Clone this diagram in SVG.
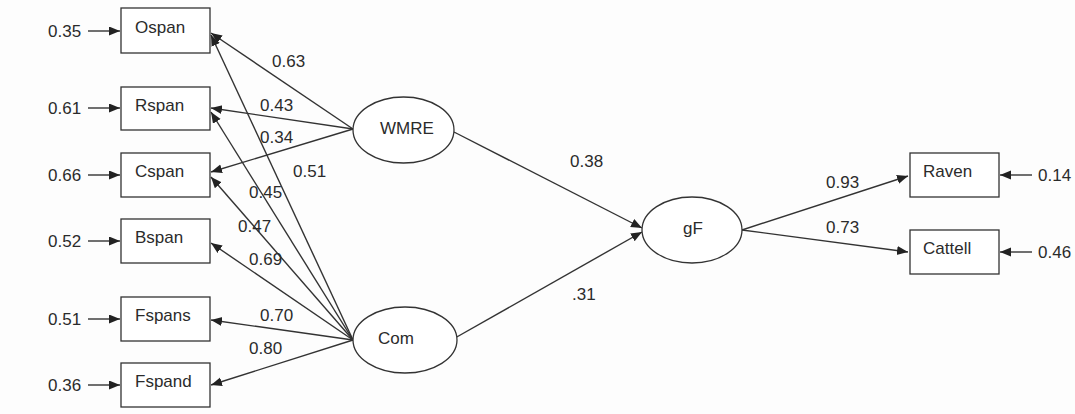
<svg xmlns="http://www.w3.org/2000/svg" width="1075" height="414" viewBox="0 0 1075 414">
<style>
.bg{fill:#fdfdfd}
.box{fill:#fff;stroke:#333;stroke-width:1.3}
.ell{fill:#fff;stroke:#333;stroke-width:1.3}
.t{font-family:"Liberation Sans",Arial,sans-serif;font-size:17px;fill:#2b2b2b}
.c line{stroke:#333;stroke-width:1.4;marker-end:url(#ah)}
</style>
<defs>
<marker id="ah" markerUnits="userSpaceOnUse" markerWidth="12" markerHeight="10" refX="11" refY="4.5" orient="auto">
<path d="M0,0 L11,4.5 L0,9 z" fill="#222"/>
</marker>
</defs>
<rect class="bg" x="0" y="0" width="1075" height="414"/>
<g id="connectors" class="c">
<line x1="88" y1="31" x2="120" y2="31"/>
<line x1="88" y1="108" x2="120" y2="108"/>
<line x1="88" y1="175" x2="120" y2="175"/>
<line x1="88" y1="241" x2="120" y2="241"/>
<line x1="88" y1="319" x2="120" y2="319"/>
<line x1="88" y1="385" x2="120" y2="385"/>
<line x1="1032" y1="175" x2="1000" y2="175"/>
<line x1="1032" y1="252" x2="1000" y2="252"/>
<line x1="353" y1="129" x2="211" y2="33"/>
<line x1="353" y1="129" x2="211" y2="108"/>
<line x1="353" y1="129" x2="211" y2="172"/>
<line x1="353" y1="340" x2="211" y2="35"/>
<line x1="353" y1="340" x2="211" y2="112"/>
<line x1="353" y1="340" x2="211" y2="177"/>
<line x1="353" y1="340" x2="211" y2="243"/>
<line x1="353" y1="340" x2="211" y2="320"/>
<line x1="353" y1="340" x2="211" y2="385"/>
<line x1="454" y1="132" x2="642" y2="228"/>
<line x1="455" y1="338" x2="642" y2="232"/>
<line x1="742" y1="230" x2="908" y2="176"/>
<line x1="742" y1="230" x2="908" y2="252"/>
</g>
<g id="connector-labels">
<text class="t" x="48" y="37">0.35</text>
<text class="t" x="48" y="114">0.61</text>
<text class="t" x="48" y="181">0.66</text>
<text class="t" x="48" y="247">0.52</text>
<text class="t" x="48" y="325">0.51</text>
<text class="t" x="48" y="391">0.36</text>
<text class="t" x="1038" y="181">0.14</text>
<text class="t" x="1038" y="258">0.46</text>
<text class="t" x="272" y="67">0.63</text>
<text class="t" x="260" y="111">0.43</text>
<text class="t" x="260" y="143">0.34</text>
<text class="t" x="293" y="177">0.51</text>
<text class="t" x="249" y="198">0.45</text>
<text class="t" x="238" y="232">0.47</text>
<text class="t" x="249" y="265">0.69</text>
<text class="t" x="260" y="321">0.70</text>
<text class="t" x="249" y="354">0.80</text>
<text class="t" x="570" y="167">0.38</text>
<text class="t" x="572" y="300">.31</text>
<text class="t" x="826" y="188">0.93</text>
<text class="t" x="826" y="233">0.73</text>
</g>
<g id="Ospan"><rect class="box" x="121" y="8" width="89" height="45"/><text class="t" x="135" y="33">Ospan</text></g>
<g id="Rspan"><rect class="box" x="121" y="87" width="89" height="43"/><text class="t" x="135" y="111">Rspan</text></g>
<g id="Cspan"><rect class="box" x="121" y="153" width="89" height="44"/><text class="t" x="135" y="177">Cspan</text></g>
<g id="Bspan"><rect class="box" x="121" y="219" width="89" height="44"/><text class="t" x="135" y="243">Bspan</text></g>
<g id="Fspans"><rect class="box" x="121" y="297" width="89" height="44"/><text class="t" x="135" y="321">Fspans</text></g>
<g id="Fspand"><rect class="box" x="121" y="363" width="89" height="44"/><text class="t" x="135" y="387">Fspand</text></g>
<g id="WMRE"><ellipse class="ell" cx="403.5" cy="130" rx="50.5" ry="33"/><text class="t" x="380" y="134">WMRE</text></g>
<g id="Com"><ellipse class="ell" cx="405" cy="340" rx="52" ry="33"/><text class="t" x="378" y="344">Com</text></g>
<g id="gF"><ellipse class="ell" cx="692" cy="230" rx="50" ry="33"/><text class="t" x="683" y="234">gF</text></g>
<g id="Raven"><rect class="box" x="910" y="153" width="89" height="44"/><text class="t" x="923" y="177">Raven</text></g>
<g id="Cattell"><rect class="box" x="910" y="230" width="89" height="44"/><text class="t" x="923" y="254">Cattell</text></g>
</svg>
